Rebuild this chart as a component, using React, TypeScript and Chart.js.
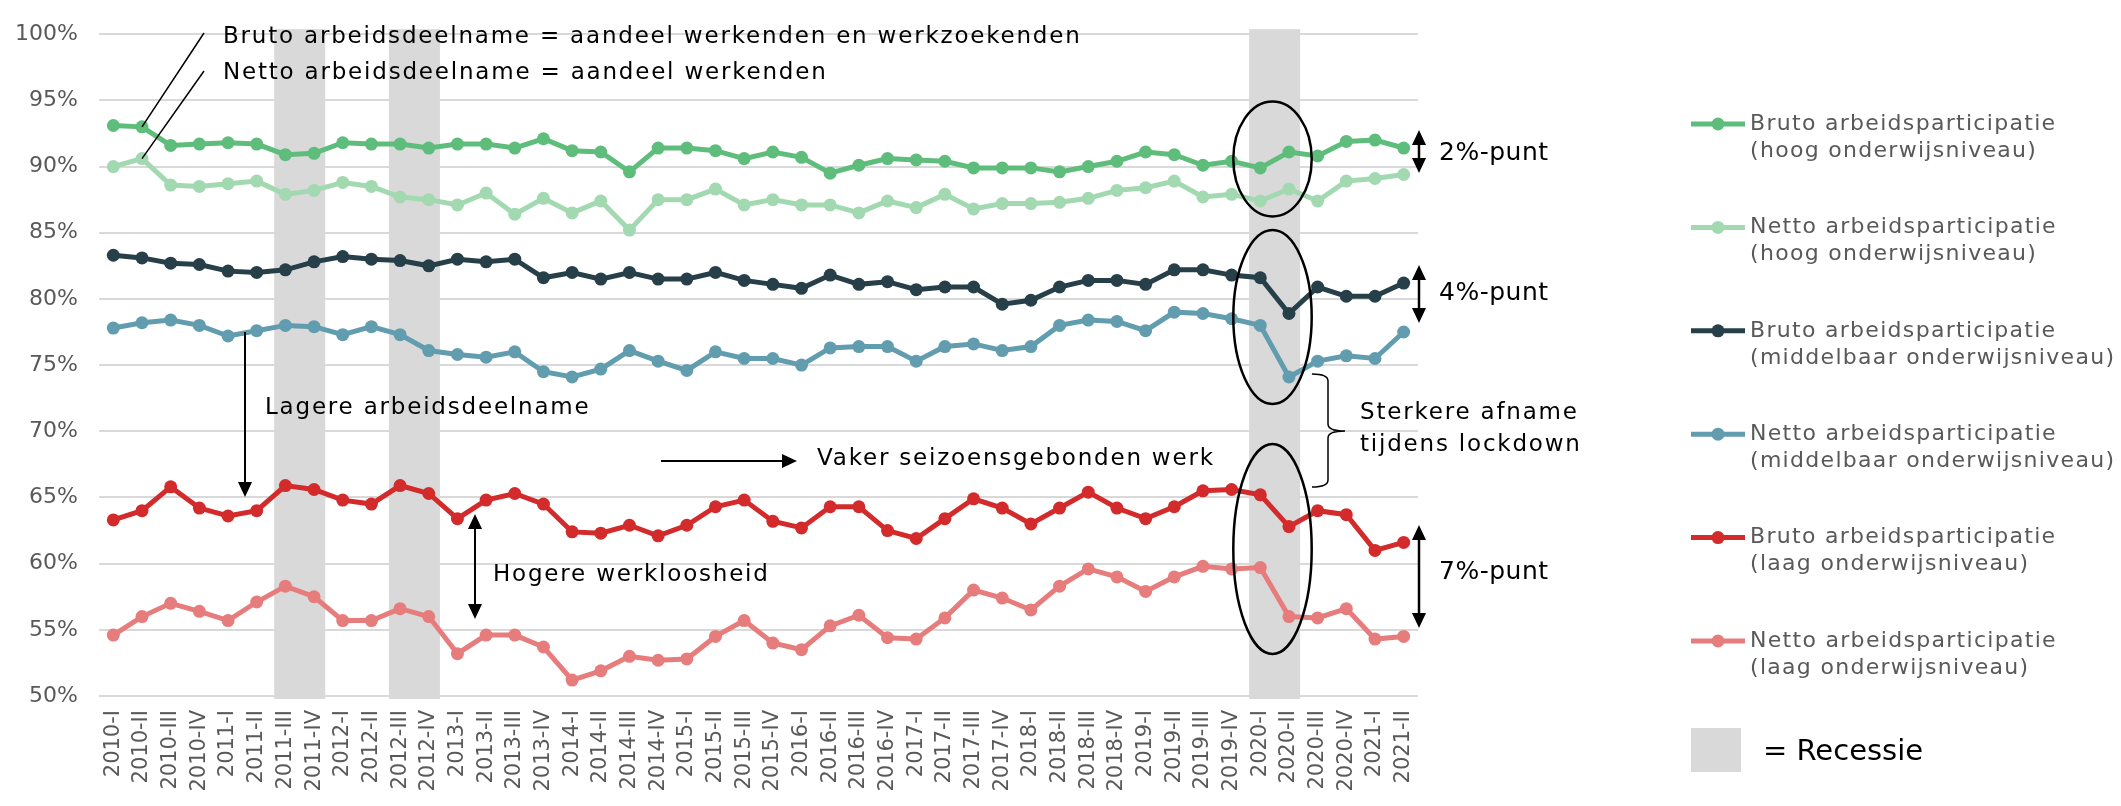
import React, { useEffect, useRef } from 'react';
import { Chart, registerables } from 'chart.js';

Chart.register(...registerables);

const W = 2121;
const H = 806;

const quarters = [
  '2010-I', '2010-II', '2010-III', '2010-IV',
  '2011-I', '2011-II', '2011-III', '2011-IV',
  '2012-I', '2012-II', '2012-III', '2012-IV',
  '2013-I', '2013-II', '2013-III', '2013-IV',
  '2014-I', '2014-II', '2014-III', '2014-IV',
  '2015-I', '2015-II', '2015-III', '2015-IV',
  '2016-I', '2016-II', '2016-III', '2016-IV',
  '2017-I', '2017-II', '2017-III', '2017-IV',
  '2018-I', '2018-II', '2018-III', '2018-IV',
  '2019-I', '2019-II', '2019-III', '2019-IV',
  '2020-I', '2020-II', '2020-III', '2020-IV',
  '2021-I', '2021-II',
];

const brutoHoog = [93.1, 93.0, 91.6, 91.7, 91.8, 91.7, 90.9, 91.0, 91.8, 91.7, 91.7, 91.4, 91.7, 91.7, 91.4, 92.1, 91.2, 91.1, 89.6, 91.4, 91.4, 91.2, 90.6, 91.1, 90.7, 89.5, 90.1, 90.6, 90.5, 90.4, 89.9, 89.9, 89.9, 89.6, 90.0, 90.4, 91.1, 90.9, 90.1, 90.4, 89.9, 91.1, 90.8, 91.9, 92.0, 91.4];
const nettoHoog = [90.0, 90.6, 88.6, 88.5, 88.7, 88.9, 87.9, 88.2, 88.8, 88.5, 87.7, 87.5, 87.1, 88.0, 86.4, 87.6, 86.5, 87.4, 85.2, 87.5, 87.5, 88.3, 87.1, 87.5, 87.1, 87.1, 86.5, 87.4, 86.9, 87.9, 86.8, 87.2, 87.2, 87.3, 87.6, 88.2, 88.4, 88.9, 87.7, 87.9, 87.4, 88.3, 87.4, 88.9, 89.1, 89.4];
const brutoMiddelbaar = [83.3, 83.1, 82.7, 82.6, 82.1, 82.0, 82.2, 82.8, 83.2, 83.0, 82.9, 82.5, 83.0, 82.8, 83.0, 81.6, 82.0, 81.5, 82.0, 81.5, 81.5, 82.0, 81.4, 81.1, 80.8, 81.8, 81.1, 81.3, 80.7, 80.9, 80.9, 79.6, 79.9, 80.9, 81.4, 81.4, 81.1, 82.2, 82.2, 81.8, 81.6, 78.9, 80.9, 80.2, 80.2, 81.2];
const nettoMiddelbaar = [77.8, 78.2, 78.4, 78.0, 77.2, 77.6, 78.0, 77.9, 77.3, 77.9, 77.3, 76.1, 75.8, 75.6, 76.0, 74.5, 74.1, 74.7, 76.1, 75.3, 74.6, 76.0, 75.5, 75.5, 75.0, 76.3, 76.4, 76.4, 75.3, 76.4, 76.6, 76.1, 76.4, 78.0, 78.4, 78.3, 77.6, 79.0, 78.9, 78.5, 78.0, 74.1, 75.3, 75.7, 75.5, 77.5];
const brutoLaag = [63.3, 64.0, 65.8, 64.2, 63.6, 64.0, 65.9, 65.6, 64.8, 64.5, 65.9, 65.3, 63.4, 64.8, 65.3, 64.5, 62.4, 62.3, 62.9, 62.1, 62.9, 64.3, 64.8, 63.2, 62.7, 64.3, 64.3, 62.5, 61.9, 63.4, 64.9, 64.2, 63.0, 64.2, 65.4, 64.2, 63.4, 64.3, 65.5, 65.6, 65.2, 62.8, 64.0, 63.7, 61.0, 61.6];
const nettoLaag = [54.6, 56.0, 57.0, 56.4, 55.7, 57.1, 58.3, 57.5, 55.7, 55.7, 56.6, 56.0, 53.2, 54.6, 54.6, 53.7, 51.2, 51.9, 53.0, 52.7, 52.8, 54.5, 55.7, 54.0, 53.5, 55.3, 56.1, 54.4, 54.3, 55.9, 58.0, 57.4, 56.5, 58.3, 59.6, 59.0, 57.9, 59.0, 59.8, 59.6, 59.7, 56.0, 55.9, 56.6, 54.3, 54.5];

const recessions = [
  ['2011-III', '2011-IV'],
  ['2012-III', '2012-IV'],
  ['2020-I', '2020-II'],
];

const seriesNames = [
  ['Bruto arbeidsparticipatie', '(hoog onderwijsniveau)'],
  ['Netto arbeidsparticipatie', '(hoog onderwijsniveau)'],
  ['Bruto arbeidsparticipatie', '(middelbaar onderwijsniveau)'],
  ['Netto arbeidsparticipatie', '(middelbaar onderwijsniveau)'],
  ['Bruto arbeidsparticipatie', '(laag onderwijsniveau)'],
  ['Netto arbeidsparticipatie', '(laag onderwijsniveau)'],
];
const seriesColors = ['#5fbd7b', '#a2d9b1', '#263f49', '#629daf', '#d32b2b', '#e67d7c'];
const seriesData = [brutoHoog, nettoHoog, brutoMiddelbaar, nettoMiddelbaar, brutoLaag, nettoLaag];

const FONT = '"DejaVu Sans", sans-serif';
const GRAY = '#595959';

function arrowHead(ctx: CanvasRenderingContext2D, x: number, y: number, dir: string, w = 14, h = 15) {
  ctx.beginPath();
  if (dir === 'down') {
    ctx.moveTo(x, y); ctx.lineTo(x - w / 2, y - h); ctx.lineTo(x + w / 2, y - h);
  } else if (dir === 'up') {
    ctx.moveTo(x, y); ctx.lineTo(x - w / 2, y + h); ctx.lineTo(x + w / 2, y + h);
  } else {
    ctx.moveTo(x, y); ctx.lineTo(x - h, y - w / 2); ctx.lineTo(x - h, y + w / 2);
  }
  ctx.closePath();
  ctx.fill();
}

function vArrow(ctx: CanvasRenderingContext2D, x: number, y0: number, y1: number, double: boolean) {
  ctx.beginPath();
  ctx.moveTo(x, double ? y0 + 8 : y0);
  ctx.lineTo(x, y1 - 8);
  ctx.stroke();
  arrowHead(ctx, x, y1, 'down');
  if (double) arrowHead(ctx, x, y0, 'up');
}

const bandsPlugin = {
  id: 'bands',
  beforeDatasetsDraw(chart: any) {
    const { ctx, chartArea, scales } = chart;
    const xs = scales.x;
    const step = xs.getPixelForValue(1) - xs.getPixelForValue(0);
    ctx.save();
    ctx.fillStyle = '#d9d9d9';
    recessions.forEach(([a, b]) => {
      const x0 = xs.getPixelForValue(quarters.indexOf(a)) - 0.39 * step;
      const x1 = xs.getPixelForValue(quarters.indexOf(b)) + 0.39 * step;
      ctx.fillRect(x0, chartArea.top - 5, x1 - x0, chartArea.bottom - chartArea.top + 8);
    });
    ctx.restore();
  },
};

const annotPlugin = {
  id: 'annot',
  afterDraw(chart: any) {
    const { ctx, scales } = chart;
    const xs = scales.x;
    const ys = scales.y;
    ctx.save();
    ctx.fillStyle = '#000';
    ctx.strokeStyle = '#000';
    ctx.textBaseline = 'middle';
    ctx.textAlign = 'left';

    // definitions text
    ctx.font = `23px ${FONT}`;
    (ctx as any).letterSpacing = '1.8px';
    ctx.fillText('Bruto arbeidsdeelname = aandeel werkenden en werkzoekenden', 223, 37);
    ctx.fillText('Netto arbeidsdeelname = aandeel werkenden', 223, 73);
    ctx.lineWidth = 1.5;
    ctx.beginPath();
    ctx.moveTo(204, 33);
    ctx.lineTo(xs.getPixelForValue(1), ys.getPixelForValue(brutoHoog[1]));
    ctx.moveTo(204, 71);
    ctx.lineTo(xs.getPixelForValue(1), ys.getPixelForValue(nettoHoog[1]));
    ctx.stroke();

    ctx.lineWidth = 2;
    // Lagere arbeidsdeelname
    vArrow(ctx, 245, 332, 497, false);
    ctx.fillText('Lagere arbeidsdeelname', 265, 408);

    // Hogere werkloosheid
    vArrow(ctx, 475, 514, 619, true);
    ctx.fillText('Hogere werkloosheid', 493, 575);

    // Vaker seizoensgebonden werk
    ctx.beginPath();
    ctx.moveTo(661, 461);
    ctx.lineTo(785, 461);
    ctx.stroke();
    arrowHead(ctx, 797, 461, 'right');
    ctx.fillText('Vaker seizoensgebonden werk', 817, 459);

    // ellipses
    ctx.lineWidth = 2.5;
    [[159, 57.5], [317, 87], [549, 105]].forEach(([cy, ry]) => {
      ctx.beginPath();
      ctx.ellipse(1272.5, cy, 39.2, ry, 0, 0, Math.PI * 2);
      ctx.stroke();
    });

    // brace
    ctx.lineWidth = 1.5;
    ctx.beginPath();
    ctx.moveTo(1312, 374);
    ctx.quadraticCurveTo(1328, 374, 1328, 381);
    ctx.lineTo(1328, 424);
    ctx.quadraticCurveTo(1328, 431, 1345, 431);
    ctx.quadraticCurveTo(1328, 431, 1328, 438);
    ctx.lineTo(1328, 480);
    ctx.quadraticCurveTo(1328, 487, 1312, 487);
    ctx.stroke();
    ctx.fillText('Sterkere afname', 1360, 413);
    ctx.fillText('tijdens lockdown', 1360, 445);

    // gaps
    ctx.lineWidth = 2.5;
    ctx.font = `25px ${FONT}`;
    (ctx as any).letterSpacing = '0.5px';
    vArrow(ctx, 1419, 130, 173, true);
    ctx.fillText('2%-punt', 1439, 153);
    vArrow(ctx, 1419, 265, 323, true);
    ctx.fillText('4%-punt', 1439, 293);
    vArrow(ctx, 1419, 525, 628, true);
    ctx.fillText('7%-punt', 1439, 572);

    // legend
    ctx.font = `22px ${FONT}`;
    (ctx as any).letterSpacing = '1.3px';
    seriesNames.forEach((lines, i) => {
      const cy = 124 + i * 103.4;
      ctx.strokeStyle = seriesColors[i];
      ctx.fillStyle = seriesColors[i];
      ctx.lineWidth = 5;
      ctx.beginPath();
      ctx.moveTo(1691, cy);
      ctx.lineTo(1745, cy);
      ctx.stroke();
      ctx.beginPath();
      ctx.arc(1718, cy, 6.5, 0, Math.PI * 2);
      ctx.fill();
      ctx.fillStyle = GRAY;
      ctx.fillText(lines[0], 1750, cy);
      ctx.fillText(lines[1], 1750, cy + 27);
    });
    ctx.fillStyle = '#d9d9d9';
    ctx.fillRect(1691, 728, 50, 44);
    ctx.fillStyle = '#000';
    ctx.font = `29px ${FONT}`;
    (ctx as any).letterSpacing = '0px';
    ctx.fillText('= Recessie', 1763, 752);

    ctx.restore();
  },
};

export default function App() {
  const ref = useRef<HTMLCanvasElement>(null);
  useEffect(() => {
    const canvas = ref.current;
    if (!canvas) return;
    const chart = new Chart(canvas, {
      type: 'line',
      data: {
        labels: quarters,
        datasets: seriesData.map((d, i) => ({
          label: seriesNames[i].join(' '),
          data: d,
          borderColor: seriesColors[i],
          backgroundColor: seriesColors[i],
          pointBackgroundColor: seriesColors[i],
          pointBorderWidth: 0,
          pointRadius: 6.5,
          borderWidth: 5,
          tension: 0,
          fill: false,
        })),
      },
      options: {
        responsive: false,
        animation: false,
        devicePixelRatio: 1,
        layout: { autoPadding: false, padding: { top: 19, right: W - 1418, left: 0, bottom: 0 } },
        plugins: { legend: { display: false }, tooltip: { enabled: false } },
        scales: {
          x: {
            offset: true,
            grid: { display: false, drawTicks: false },
            border: { display: false },
            ticks: {
              autoSkip: false,
              minRotation: 90,
              maxRotation: 90,
              padding: 14,
              color: GRAY,
              font: { family: FONT, size: 21 },
            },
            afterFit: (s: any) => { s.height = 110; },
          },
          y: {
            min: 50,
            max: 100,
            grid: { color: '#d9d9d9', lineWidth: 2, drawTicks: false },
            border: { display: false },
            ticks: {
              stepSize: 5,
              padding: 21,
              color: GRAY,
              font: { family: FONT, size: 22 },
              callback: (v: any) => `${v}%`,
            },
            afterFit: (s: any) => { s.width = 99; },
          },
        },
      },
      plugins: [bandsPlugin, annotPlugin],
    } as any);
    return () => chart.destroy();
  }, []);
  return (
    <div style={{ position: 'fixed', left: 0, top: 0, width: W, height: H, background: '#fff' }}>
      <canvas ref={ref} width={W} height={H} style={{ width: W, height: H, display: 'block' }} />
    </div>
  );
}
